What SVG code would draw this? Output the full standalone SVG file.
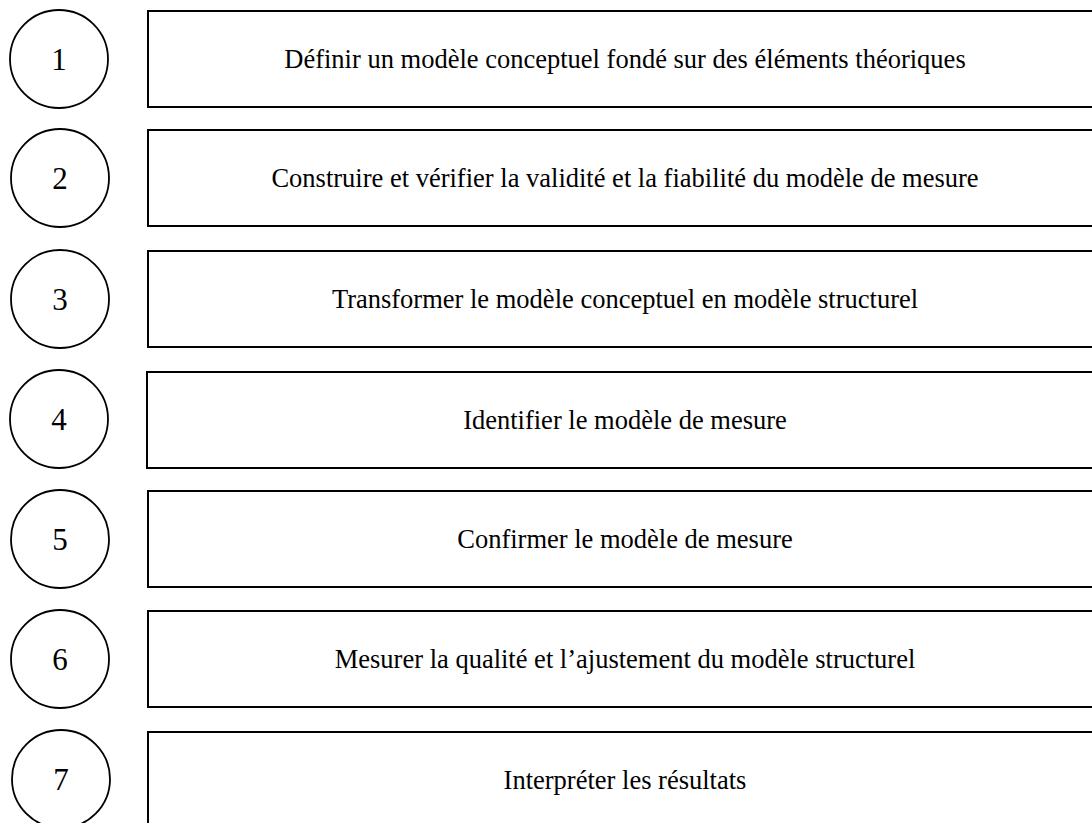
<svg xmlns="http://www.w3.org/2000/svg" width="1092" height="823" viewBox="0 0 1092 823">
<style>
.c{fill:#fff;stroke:#000;stroke-width:1.8}
.b{fill:#fff;stroke:#000;stroke-width:2}
.t{font-family:"Liberation Serif","Times New Roman",serif;font-size:26.5px;fill:#000;text-anchor:middle}
.n{font-family:"Liberation Serif","Times New Roman",serif;font-size:31px;fill:#000;text-anchor:middle}
</style>
<rect width="1092" height="823" fill="#fff"/>
<g id="connectors"></g>
<g id="step1"><circle class="c" cx="59" cy="59" r="49"/><text class="n" x="59" y="70">1</text><rect class="b" x="148" y="11" width="1000" height="96"/><text class="t" x="625" y="68">Définir un modèle conceptuel fondé sur des éléments théoriques</text></g>
<g id="step2"><circle class="c" cx="60" cy="178" r="49"/><text class="n" x="60" y="189">2</text><rect class="b" x="148" y="130" width="1000" height="96"/><text class="t" x="625" y="187">Construire et vérifier la validité et la fiabilité du modèle de mesure</text></g>
<g id="step3"><circle class="c" cx="60" cy="299" r="49"/><text class="n" x="60" y="310">3</text><rect class="b" x="148" y="251" width="1000" height="96"/><text class="t" x="625" y="308">Transformer le modèle conceptuel en modèle structurel</text></g>
<g id="step4"><circle class="c" cx="59" cy="419" r="49"/><text class="n" x="59" y="430">4</text><rect class="b" x="147" y="372" width="1000" height="96"/><text class="t" x="625" y="429">Identifier le modèle de mesure</text></g>
<g id="step5"><circle class="c" cx="60" cy="539" r="49"/><text class="n" x="60" y="550">5</text><rect class="b" x="148" y="491" width="1000" height="96"/><text class="t" x="625" y="548">Confirmer le modèle de mesure</text></g>
<g id="step6"><circle class="c" cx="60" cy="659" r="49"/><text class="n" x="60" y="670">6</text><rect class="b" x="148" y="611" width="1000" height="96"/><text class="t" x="625" y="668">Mesurer la qualité et l’ajustement du modèle structurel</text></g>
<g id="step7"><circle class="c" cx="61" cy="779" r="49"/><text class="n" x="61" y="790">7</text><rect class="b" x="148" y="732" width="1000" height="96"/><text class="t" x="625" y="789">Interpréter les résultats</text></g>
</svg>
